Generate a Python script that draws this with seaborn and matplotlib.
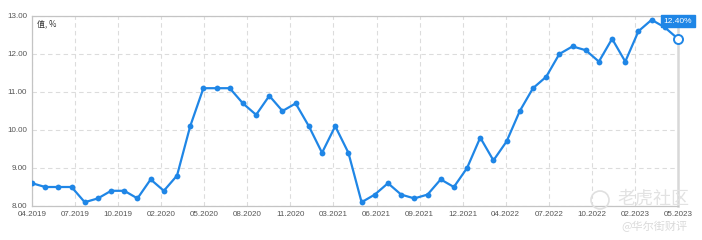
import numpy as np
import pandas as pd
import matplotlib
matplotlib.use("Agg")
import matplotlib.pyplot as plt
import seaborn as sns
from matplotlib.patches import Ellipse

# ---- data ----
values = [8.6, 8.5, 8.5, 8.5, 8.1, 8.2, 8.4, 8.4, 8.2, 8.7,
          8.4, 8.8, 10.1, 11.1, 11.1, 11.1, 10.7, 10.4, 10.9, 10.5,
          10.7, 10.1, 9.4, 10.1, 9.4, 8.1, 8.3, 8.6, 8.3, 8.2,
          8.3, 8.7, 8.5, 9.0, 9.8, 9.2, 9.7, 10.5, 11.1, 11.4,
          12.0, 12.2, 12.1, 11.8, 12.4, 11.8, 12.6, 12.9, 12.7, 12.4]
month_index = list(range(len(values)))
tick_labels = ["04.2019", "07.2019", "10.2019", "02.2020", "05.2020", "08.2020",
               "11.2020", "03.2021", "06.2021", "09.2021", "12.2021", "04.2022",
               "07.2022", "10.2022", "02.2023", "05.2023"]
y_ticks = [8.0, 9.0, 10.0, 11.0, 12.0, 13.0]
unit_label = "值, %"
tooltip_text = "12.40%"

df = pd.DataFrame({"month": month_index, "value": values})

sns.set_theme(style="white")
plt.rcParams["font.family"] = ["Liberation Sans", "DejaVu Sans"]

LINE = "#1f86e6"
fig = plt.figure(figsize=(7.02, 2.40), dpi=100)
ax = fig.add_axes([32/702, 34/240, (678-32)/702, (206-16)/240])

sns.lineplot(data=df, x="month", y="value", ax=ax, color=LINE, linewidth=1.6,
             marker="o", markersize=4.2, markeredgewidth=0, zorder=3)

# last point highlighted (hollow)
last = df.iloc[-1]
ax.plot([last["month"]], [last["value"]], marker="o", markersize=6.5,
        markerfacecolor="white", markeredgecolor=LINE, markeredgewidth=1.4,
        zorder=4, clip_on=False)

n = len(values)
ax.set_xlim(0, n - 1)
ax.set_ylim(8, 13)
xt = np.linspace(0, n - 1, len(tick_labels))
ax.set_xticks(xt)
ax.set_xticklabels(tick_labels)
ax.set_yticks(y_ticks)
ax.set_yticklabels([f"{v:.2f}" for v in y_ticks])
ax.set_xlabel("")
ax.set_ylabel("")

ax.tick_params(axis="both", length=0, labelsize=5.8, colors="#555555")
ax.tick_params(axis="x", pad=3.5)
ax.tick_params(axis="y", pad=3.5)

ax.grid(True, linestyle=(0, (4, 3)), color="#dcdcdc", linewidth=0.8)
ax.set_axisbelow(True)

for side in ["left", "bottom", "top"]:
    ax.spines[side].set_color("#c4c4c4")
    ax.spines[side].set_linewidth(0.9)
ax.spines["right"].set_color("#d8d8d8")
ax.spines["right"].set_linewidth(1.8)

ax.text(0.008, 0.985, unit_label, transform=ax.transAxes, ha="left", va="top",
        fontsize=5.8, color="#333333", family=["Noto Sans CJK SC", "DejaVu Sans"])

# tooltip
ax.annotate(tooltip_text, xy=(last["month"], last["value"]), xytext=(0, 12.8),
            textcoords="offset points", ha="center", va="center", fontsize=6,
            color="white", annotation_clip=False, zorder=6,
            bbox=dict(boxstyle="square,pad=0.28", fc=LINE, ec=LINE))

# watermarks
fig.text(653/702, 1 - 199/240, "老虎社区", ha="center", va="center", fontsize=13,
         color="#e2e2e2", family=["Noto Sans CJK SC", "DejaVu Sans"], zorder=0)
fig.text(654/702, 1 - 226/240, "@华尔街财评", ha="center", va="center", fontsize=8,
         color="#dadada", family=["Noto Sans CJK SC", "DejaVu Sans"], zorder=0)
fig.add_artist(Ellipse((600/702, 1 - 200/240), 18/702, 18/240,
                       transform=fig.transFigure, fill=False, ec="#e0e0e0", lw=1.2))

fig.savefig("out.png", dpi=100)
